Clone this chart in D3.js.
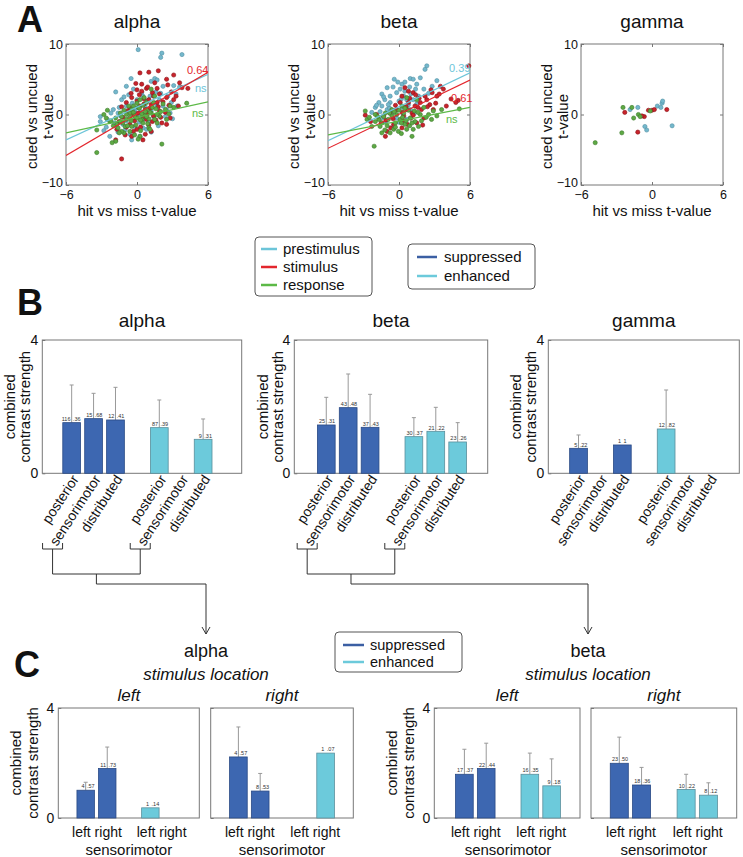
<!DOCTYPE html>
<html><head><meta charset="utf-8">
<script src="https://cdn.jsdelivr.net/npm/d3@7"></script>
<style>
body{margin:0;background:#fff}
svg{display:block}
text{font-family:Arial,"Liberation Sans",sans-serif;fill:#111}
</style>
</head><body>
<svg id="c" width="743" height="857"></svg>
<script>
// ---------------- DATA ----------------
const bands = ['alpha','beta','gamma'];
const phases = ['prestimulus','stimulus','response'];
const modulations = ['suppressed','enhanced'];
const regions = ['posterior','sensorimotor','distributed'];
const sides = ['left','right'];

// Panel A scatter points [hit vs miss t, cued vs uncued t]
const alphaPre = [[0.1,9.2],[2.1,8.7],[2.0,8.1],[3.8,8.5],[-0.5,5.1],[1.5,5.1],[1.7,4.9],[-0.9,4.0],[-1.8,3.2],[2.2,4.0],[1.2,4.7],[3.1,4.1],[3.6,3.9],[-3.1,-0.3],[-3.1,-1.0],[-2.5,-0.7],[-2.0,0.7],[-1.6,0.2],[-1.3,2.1],[0.5,2.6],[1.9,2.1],[2.5,0.7],[2.9,1.7],[2.2,1.2],[0.25,-3.1],[-0.2,-1.7],[1.0,-1.0],[-0.6,-0.5],[-2.3,-3.1],[-1.6,-2.5],[1.2,0.5],[1.7,1.2],[-0.9,1.2],[-0.3,3.6],[0.0,2.1],[3.3,2.9],[2.8,0.2],[0.8,-2.1],[-0.45,-3.6],[0.5,-1.9],[-1.2,-1.4],[0.3,0.4],[0.9,1.9],[-0.4,1.6],[1.4,-0.3],[-2.6,-1.8],[0.6,-0.6],[-1.0,-2.2],[2.6,2.6],[1.6,3.2],[-0.7,2.8],[0.2,-1.1],[3.0,-0.6],[-1.9,-1.2],[-1.4,-0.2],[0.9,0.2],[-0.1,0.9],[1.8,-1.6],[-2.2,0.2],[0.4,3.1],[2.0,3.0],[-0.6,-2.8],[1.2,-2.5],[-1.5,1.0],[0.7,1.1],[-0.9,-0.9],[2.4,-0.3],[1.1,2.6],[-2.8,-2.3],[0.1,-0.3],[-0.2,0.4],[1.5,1.6],[-1.1,2.5],[3.4,1.2]];
const alphaStim = [[1.8,6.2],[1.0,6.0],[0.25,5.9],[3.1,5.6],[2.5,5.0],[2.6,4.2],[3.6,4.5],[3.8,3.8],[4.3,3.7],[0.8,3.7],[0.4,3.3],[0.0,3.5],[1.3,3.1],[1.9,2.9],[2.5,2.4],[3.1,2.1],[1.7,1.7],[-0.45,2.4],[-0.9,1.7],[-1.3,1.1],[0.1,0.2],[0.7,0.7],[1.4,-0.2],[-0.6,-1.4],[0.0,-2.1],[-0.45,-3.1],[-1.0,-2.9],[-1.8,-3.6],[-1.7,-2.1],[0.5,-3.6],[-1.3,-6.3],[1.2,-2.4],[2.1,-1.2],[2.8,-0.5],[3.5,1.2],[1.0,2.1],[0.25,1.2],[-0.3,0.0],[1.9,0.5],[2.5,-1.4],[0.8,-0.7],[1.5,4.5],[0.6,1.5],[-0.2,-0.9],[1.1,0.9],[0.3,-1.8],[-0.8,0.5],[1.6,-0.8],[2.2,1.8],[0.9,3.9],[-0.1,4.4],[0.7,-2.8],[1.4,2.6],[-1.2,-0.4],[2.9,3.2],[0.2,2.8],[0.5,-0.3],[-0.6,0.9],[1.8,1.1],[0.0,1.9],[-0.3,-2.4],[1.0,-1.5],[2.0,-0.4],[-1.5,-1.0],[0.9,0.1],[1.3,-1.0],[-0.9,-1.8],[2.4,0.3],[0.4,4.3],[1.7,3.7],[-0.5,3.0],[3.3,2.6],[2.7,1.3],[-0.1,-0.4],[0.6,2.2],[1.2,1.4]];
const alphaResp = [[-3.4,-2.2],[-3.4,-5.4],[-2.5,0.6],[-2.3,-1.0],[-1.8,-0.5],[-1.7,-1.4],[-1.4,0.2],[-1.0,-1.7],[-0.6,0.2],[-0.3,1.2],[0.0,-0.5],[0.25,2.1],[0.4,-0.7],[0.8,0.7],[1.2,3.6],[1.4,1.7],[1.7,-1.2],[1.9,-0.2],[2.4,0.7],[2.8,1.2],[3.1,1.0],[4.2,1.6],[2.1,-4.2],[-1.1,-2.6],[-0.45,-1.7],[0.5,0.0],[1.0,-1.9],[-0.2,-2.9],[-1.8,-3.8],[-2.1,-4.0],[-1.3,-2.4],[0.25,-3.1],[1.2,0.2],[-0.9,-0.7],[-0.45,0.7],[0.1,1.0],[0.8,1.7],[1.5,2.6],[2.5,-0.7],[0.5,-1.2],[-1.4,-1.0],[-2.8,0.0],[-0.6,-2.4],[1.7,0.0],[0.7,0.4],[-0.6,-0.4],[0.2,0.9],[-1.1,0.6],[1.0,-0.6],[-0.1,-1.5],[0.6,2.4],[-1.6,-1.9],[1.3,1.0],[-0.8,-1.6],[0.3,-2.3],[2.0,0.4],[-2.2,-0.9],[0.9,-1.3],[-0.3,0.3],[1.6,0.8],[-0.5,-0.9],[0.4,0.1],[1.1,0.3],[-1.3,-0.3],[0.0,1.6],[-0.9,0.0],[0.8,-0.3],[1.5,-0.7],[-2.0,-1.6],[-0.2,-0.2],[0.5,1.3],[-1.5,-2.6],[1.1,-2.1],[2.2,1.5],[-0.7,1.2],[0.3,-0.8],[-1.2,-1.2],[2.7,0.1],[-2.6,-0.5],[0.1,-3.5]];

const betaPre = [[2.35,6.9],[2.2,6.4],[-0.4,5.0],[0.95,5.1],[1.2,5.0],[0.25,4.3],[1.5,4.3],[-1.0,3.8],[2.1,3.6],[-1.45,2.9],[-0.75,2.6],[-0.2,3.1],[0.5,3.3],[-1.2,2.1],[-1.7,1.7],[-1.45,1.2],[0.0,1.9],[0.65,2.1],[1.2,2.1],[1.65,2.6],[-2.0,1.0],[-1.0,0.7],[-0.6,0.2],[0.25,1.0],[0.95,0.7],[-0.2,-0.5],[0.65,-0.7],[-1.45,-0.5],[-0.45,-1.7],[3.2,4.8],[2.8,4.0],[1.8,5.2],[0.1,3.6],[-0.75,1.7],[0.4,2.6],[-0.8,0.9],[0.3,0.2],[-1.6,0.4],[0.8,1.4],[-0.5,3.9],[1.0,2.9],[-1.1,-1.1],[0.5,4.6],[-2.3,0.3],[1.4,3.6],[-0.3,0.6],[0.6,0.9],[-1.3,2.5],[0.2,2.2],[1.5,1.5],[-0.9,1.4],[0.9,3.9],[-0.1,4.6],[2.5,3.0],[-1.9,1.3],[0.0,-1.1],[1.3,0.2]];
const betaStim = [[5.9,6.9],[5.0,2.0],[4.8,1.7],[3.5,4.0],[3.75,3.6],[2.8,3.1],[3.2,2.6],[2.35,2.1],[1.8,1.7],[2.6,1.4],[1.35,1.2],[1.9,0.7],[0.8,3.3],[0.5,3.8],[0.25,2.6],[0.8,1.7],[1.1,0.2],[0.4,-0.2],[-0.2,0.7],[-0.75,0.2],[-1.3,-0.2],[-1.9,0.0],[-2.85,-0.1],[-2.4,-1.0],[-1.15,-3.1],[-1.0,-2.4],[-0.45,-1.4],[0.25,-1.9],[1.5,-1.2],[2.1,-0.5],[2.9,0.7],[4.0,1.2],[1.2,3.1],[0.1,1.7],[0.65,0.7],[0.9,2.3],[1.6,1.0],[2.2,2.6],[0.3,-0.9],[-0.5,-0.6],[1.0,-0.5],[3.1,1.6],[2.7,3.5],[-1.5,-1.2],[0.6,1.1],[0.3,0.3],[-0.3,1.3],[1.2,-0.1],[2.4,1.1],[1.7,2.3],[3.4,2.9],[0.7,-1.4],[-1.1,-0.8],[2.0,-1.5],[-0.7,-1.9],[4.4,2.2],[1.4,2.8]];
const betaResp = [[-2.85,0.5],[-2.7,-0.7],[-2.3,-1.7],[-2.1,-4.5],[-1.7,-0.7],[-1.45,-1.2],[-1.15,0.2],[-0.9,-0.7],[-0.6,0.7],[-0.45,-2.1],[-0.2,0.0],[0.1,-0.7],[0.4,0.2],[0.5,-1.4],[0.95,-0.5],[1.1,-3.1],[1.35,-1.0],[1.8,0.0],[2.1,1.0],[2.5,0.0],[2.9,0.5],[3.6,0.7],[5.1,0.8],[0.25,1.2],[0.65,2.4],[1.5,2.1],[-0.75,-2.6],[-0.05,-2.4],[-1.45,-2.6],[0.65,-2.1],[1.65,-1.7],[2.75,-0.7],[-2.0,0.0],[-0.3,-1.2],[-0.6,-0.2],[0.2,-1.2],[-1.0,-1.6],[0.8,0.6],[1.3,0.5],[-1.8,-0.3],[0.0,0.6],[0.6,-0.9],[-0.3,-1.8],[1.9,-0.9],[-2.5,-0.4],[0.9,-1.6],[-1.3,-0.3],[-0.8,0.2],[0.3,-0.4],[1.1,-1.2],[-1.6,-1.7],[0.5,0.9],[1.6,0.3],[-0.4,0.4],[2.3,-0.4],[-1.2,-2.2],[0.2,-2.7],[1.2,-2.1],[3.2,-0.2],[-2.0,-1.0]];

const gammaPre = [[-1.85,0.7],[-1.2,1.0],[0.45,1.2],[0.85,1.6],[0.9,1.9],[0.75,1.0],[-0.6,-1.7],[-0.45,-2.2],[1.7,-1.6]];
const gammaStim = [[-2.3,0.3],[-1.2,-2.5],[-0.65,-0.3],[-0.3,0.6],[0.0,0.6],[0.2,0.7],[1.25,0.7],[-0.85,-0.2]];
const gammaResp = [[-2.45,1.0],[-1.7,1.0],[-1.55,-0.5],[-1.15,0.0],[-1.0,-0.3],[-2.55,-2.6],[-4.8,-4.0],[-0.15,0.5]];

// regression fits [intercept, slope] and correlation labels
const alphaFits = [[1.05,0.775],[0.1,0.983],[-0.4,0.367]];
const betaFits  = [[1.1,0.8],[0.05,0.808],[-0.95,0.325]];
const alphaFitText = ['ns','0.64','ns'];
const betaFitText  = ['0.39','0.61','ns'];

// Panel B: bars (posterior, sensorimotor, distributed) x (suppressed, enhanced)
const alphaBMean = [1.52,1.64,1.60,1.37,null,1.02];
const alphaBErr  = [2.65,2.40,2.58,2.20,null,1.63];
const alphaBN    = ['116','15','12','87','','9'];
const alphaBR    = ['.36','.68','.41','.39','','.31'];
const betaBMean  = [1.45,1.97,1.38,1.10,1.26,0.94];
const betaBErr   = [2.28,2.98,2.37,1.67,1.98,1.52];
const betaBN     = ['25','43','37','30','21','23'];
const betaBR     = ['.31','.48','.43','.37','.22','.26'];
const gammaBMean = [0.75,null,0.85,1.33,null,null];
const gammaBErr  = [1.15,null,null,2.50,null,null];
const gammaBN    = ['5','','1','12','',''];
const gammaBR    = ['.22','','1','.82','',''];

// Panel C: sensorimotor left/right x (suppressed, enhanced), per stimulus location
const alphaCLeftMean  = [1.01,1.80,0.37,null];
const alphaCLeftErr   = [1.30,2.58,null,null];
const alphaCLeftN     = ['4','11','1',''];
const alphaCLeftR     = ['.57','.73','.14',''];
const alphaCRightMean = [2.22,0.98,null,2.36];
const alphaCRightErr  = [3.31,1.62,null,null];
const alphaCRightN    = ['4','8','','1'];
const alphaCRightR    = ['.57','.53','','.07'];
const betaCLeftMean   = [1.59,1.80,1.59,1.17];
const betaCLeftErr    = [2.50,2.72,2.36,2.15];
const betaCLeftN      = ['17','22','16','9'];
const betaCLeftR      = ['.37','.44','.35','.18'];
const betaCRightMean  = [1.99,1.20,1.04,0.83];
const betaCRightErr   = [2.94,1.84,1.59,1.28];
const betaCRightN     = ['23','18','10','8'];
const betaCRightR     = ['.50','.36','.22','.12'];

const xTicksA = [-6,0,6];
const yTicksA = [-10,0,10];
const yTicksBar = [0,4];

// ---------------- STYLE / LAYOUT ----------------
const FONT='Arial,"Liberation Sans",sans-serif';
const phaseColor = {prestimulus:'#6cc5d9', stimulus:'#e3262d', response:'#5cb947'};
const dotFill = {prestimulus:'#74b8cc', stimulus:'#c8232b', response:'#5ea944'};
const dotStroke = {prestimulus:'#4f8ea3', stimulus:'#8c1218', response:'#3d7a2c'};
const modFill = {suppressed:'#3d67b1', enhanced:'#6ccadb'};
const modStroke = {suppressed:'#2a4a85', enhanced:'#5a8f9c'};
const modLegend = {suppressed:'#3b5fa3', enhanced:'#6ccadb'};

const svg = d3.select('#c');

[['A',17,32],['B',17,315],['C',14,677]].forEach(([t,x,y])=>{
  svg.append('text').attr('x',x).attr('y',y).attr('font-size',36).attr('font-weight','bold').text(t);
});

// ---------------- PANEL A ----------------
const aTop=44, aBot=185, aW=142;
const aPanels = [
  {band:'alpha', left:66, pts:[alphaPre,alphaStim,alphaResp], fits:alphaFits, fitText:alphaFitText,
   labelPos:[[195,88],[187,70],[192,113]]},
  {band:'beta', left:328, pts:[betaPre,betaStim,betaResp], fits:betaFits, fitText:betaFitText,
   labelPos:[[449,68],[451,98],[446,119]]},
  {band:'gamma', left:581, pts:[gammaPre,gammaStim,gammaResp], fits:null}
];
aPanels.forEach((p,pi)=>{
  const x=d3.scaleLinear().domain([-6,6]).range([p.left,p.left+aW]);
  const y=d3.scaleLinear().domain([-10,10]).range([aBot,aTop]);
  const g=svg.append('g');
  const cid='clipA'+pi;
  g.append('clipPath').attr('id',cid).append('rect').attr('x',p.left).attr('y',aTop).attr('width',aW).attr('height',aBot-aTop);
  const ax=(gen,tr,labels)=>{
    const a=g.append('g').attr('transform',tr).call(gen);
    a.select('.domain').remove();
    a.selectAll('line').attr('stroke','#777');
    a.selectAll('text').attr('font-size',12.5).attr('fill','#111').style('font-family',FONT);
    if(!labels) a.selectAll('text').remove();
    return a;
  };
  ax(d3.axisBottom(x).tickValues(xTicksA).tickSize(-3).tickPadding(5.5).tickFormat(d3.format('d')),`translate(0,${aBot})`,true);
  const yl=ax(d3.axisLeft(y).tickValues(yTicksA).tickSize(-3).tickPadding(3).tickFormat(d3.format('d')),`translate(${p.left},0)`,true);
  yl.selectAll('text').filter(d=>d===-10).attr('dy','0.1em');
  ax(d3.axisRight(y).tickValues(yTicksA).tickSize(-3),`translate(${p.left+aW},0)`,false);
  ax(d3.axisTop(x).tickValues(xTicksA).tickSize(-3),`translate(0,${aTop})`,false);
  g.append('rect').attr('x',p.left).attr('y',aTop).attr('width',aW).attr('height',aBot-aTop)
    .attr('fill','none').attr('stroke','#777').attr('stroke-width',1);
  p.pts.forEach((arr,si)=>{
    const ph=phases[si];
    g.append('g').selectAll('circle').data(arr).join('circle')
      .attr('cx',d=>x(d[0])).attr('cy',d=>y(d[1])).attr('r',2.1)
      .attr('fill',dotFill[ph]).attr('stroke',dotStroke[ph]).attr('stroke-width',0.6);
  });
  if(p.fits){
    p.fits.forEach((f,si)=>{
      const ph=phases[si];
      const line=d3.line().x(d=>x(d)).y(d=>y(f[0]+f[1]*d));
      g.append('path').attr('clip-path',`url(#${cid})`).attr('d',line([-6,6]))
        .attr('fill','none').attr('stroke',phaseColor[ph]).attr('stroke-width',1.2);
    });
    p.fits.forEach((f,si)=>{
      const ph=phases[si];
      g.append('text').attr('x',p.labelPos[si][0]).attr('y',p.labelPos[si][1]).attr('dy','0.35em')
        .attr('font-size',11).style('fill',phaseColor[ph]).text(p.fitText[si]);
    });
  }
  g.append('text').attr('x',p.left+aW/2).attr('y',28).attr('text-anchor','middle').attr('font-size',19).text(p.band);
  g.append('text').attr('x',p.left+aW/2).attr('y',215.5).attr('text-anchor','middle').attr('font-size',15).text('hit vs miss t-value');
  const cy=(aTop+aBot)/2+2;
  g.append('text').attr('transform',`translate(${p.left-29},${cy}) rotate(-90)`).attr('text-anchor','middle').attr('font-size',15).text('cued vs uncued');
  g.append('text').attr('transform',`translate(${p.left-13.5},${cy}) rotate(-90)`).attr('text-anchor','middle').attr('font-size',15).text('t-value');
});

// ---------------- LEGENDS ----------------
function legend(x0,y0,w,h,items,colors,lx,tx,ys,fs){
  const g=svg.append('g');
  g.append('rect').attr('x',x0).attr('y',y0).attr('width',w).attr('height',h).attr('rx',4)
    .attr('fill','#fff').attr('stroke','#555').attr('stroke-width',1);
  items.forEach((it,i)=>{
    g.append('line').attr('x1',lx[0]).attr('x2',lx[1]).attr('y1',ys[i]).attr('y2',ys[i])
      .attr('stroke',colors[it]).attr('stroke-width',2.5);
    g.append('text').attr('x',tx).attr('y',ys[i]).attr('dy','0.35em').attr('font-size',fs).text(it);
  });
}
legend(255,237,117,59,phases,phaseColor,[261,277],283,[249,267,285],15);
legend(408,244,127,45,modulations,modLegend,[417,437],444,[257,276],15);
legend(335,632,127,40,modulations,modLegend,[343,364],370,[645,662],14.5);

// ---------------- BAR PANEL HELPER ----------------
function barPanel(cfg){
  const g=svg.append('g');
  const x=d3.scaleLinear().domain(cfg.domain).range([cfg.left,cfg.right]);
  const y=d3.scaleLinear().domain([0,4]).range([cfg.bottom,cfg.top]);
  const step=x(1)-x(0), bw=step*0.81;
  const ya=g.append('g').attr('transform',`translate(${cfg.left},0)`)
    .call(d3.axisLeft(y).tickValues(yTicksBar).tickSize(-3).tickPadding(4).tickFormat(d3.format('d')));
  ya.select('.domain').remove();
  ya.selectAll('line').attr('stroke','#777');
  ya.selectAll('text').attr('font-size',14).attr('fill','#111').style('font-family',FONT);
  if(cfg.noYLabels) ya.selectAll('text').remove();
  g.append('rect').attr('x',cfg.left).attr('y',cfg.top).attr('width',cfg.right-cfg.left).attr('height',cfg.bottom-cfg.top)
    .attr('fill','none').attr('stroke','#777');
  const items=cfg.mean.map((m,i)=>({m,e:cfg.err[i],n:cfg.n[i],r:cfg.r[i],slot:cfg.slots[i],grp:cfg.groups[i]})).filter(d=>d.m!=null);
  items.filter(d=>d.e!=null).forEach(d=>{
    const cx=x(d.slot);
    g.append('line').attr('x1',cx).attr('x2',cx).attr('y1',y(d.m)).attr('y2',y(d.e)).attr('stroke','#999').attr('stroke-width',1);
    g.append('line').attr('x1',cx-2).attr('x2',cx+2).attr('y1',y(d.e)).attr('y2',y(d.e)).attr('stroke','#999').attr('stroke-width',1);
  });
  g.append('g').selectAll('rect').data(items).join('rect')
    .attr('x',d=>x(d.slot)-bw/2).attr('width',bw)
    .attr('y',d=>y(d.m)).attr('height',d=>y(0)-y(d.m))
    .attr('fill',d=>modFill[d.grp]).attr('stroke',d=>modStroke[d.grp]).attr('stroke-width',0.8);
  items.forEach(d=>{
    const cx=x(d.slot), ty=y(d.m)-1.8;
    g.append('text').attr('x',cx-1.2).attr('y',ty).attr('text-anchor','end').attr('font-size',5.5).style('fill','#333').text(d.n);
    g.append('text').attr('x',cx+1.2).attr('y',ty).attr('text-anchor','start').attr('font-size',5.5).style('fill','#333').text(d.r);
  });
  if(cfg.yt){
    const cy=(cfg.top+cfg.bottom)/2;
    g.append('text').attr('transform',`translate(${cfg.left+cfg.yt[0]},${cy}) rotate(-90)`).attr('text-anchor','middle').attr('font-size',15).text('combined');
    g.append('text').attr('transform',`translate(${cfg.left+cfg.yt[1]},${cy}) rotate(-90)`).attr('text-anchor','middle').attr('font-size',15).text('contrast strength');
  }
  return {g,x,y};
}

// ---------------- PANEL B ----------------
const bTop=340, bBot=473.3;
const bSlots=[0,1,2,4,5,6];
const bGroups=['suppressed','suppressed','suppressed','enhanced','enhanced','enhanced'];
const bRegionOf=[0,1,2,0,1,2];
const bPanels=[
  {band:'alpha',left:42.3,right:241.7,domain:[-1.34,7.76],mean:alphaBMean,err:alphaBErr,n:alphaBN,r:alphaBR,yt:[-27,-12]},
  {band:'beta',left:294.3,right:487.7,domain:[-1.46,7.37],mean:betaBMean,err:betaBErr,n:betaBN,r:betaBR,yt:[-26,-11]},
  {band:'gamma',left:548.3,right:739.3,domain:[-1.38,7.34],mean:gammaBMean,err:gammaBErr,n:gammaBN,r:gammaBR,yt:[-27,-12]}
];
const bScales={};
bPanels.forEach(p=>{
  const {g,x}=barPanel(Object.assign({top:bTop,bottom:bBot,slots:bSlots,groups:bGroups},p));
  bScales[p.band]=x;
  const xa=g.append('g').attr('transform',`translate(0,${bBot})`)
    .call(d3.axisBottom(x).tickValues(bSlots).tickSize(0).tickFormat((d,i)=>regions[bRegionOf[i]]));
  xa.select('.domain').remove();
  xa.selectAll('text').attr('font-size',14).attr('fill','#111').style('font-family',FONT)
    .attr('text-anchor','end').attr('transform','translate(3,3) rotate(-57)').attr('x',0).attr('y',0).attr('dy','0.35em');
  g.append('text').attr('x',(p.left+p.right)/2).attr('y',327).attr('text-anchor','middle').attr('font-size',19).text(p.band);
});

// ---------------- CONNECTORS ----------------
const conn=svg.append('g').attr('fill','none').attr('stroke','#333').attr('stroke-width',1);
[['alpha',206],['beta',588]].forEach(([b,tx])=>{
  const x=bScales[b];
  const c1=x(1)-41, c2=x(5)-41;
  [c1,c2].forEach(c=>{
    conn.append('path').attr('d',`M${c-10},543V549H${c+10}V543M${c},549V574`);
  });
  const mid=(c1+c2)/2;
  conn.append('path').attr('d',`M${c1},574H${c2}M${mid},574V584H${tx}V634`);
  conn.append('path').attr('d',`M${tx-4},627L${tx},634L${tx+4},627`);
});

// ---------------- PANEL C ----------------
const cTop=708, cBot=818;
const cSlots=[0,1,3,4];
const cGroups=['suppressed','suppressed','enhanced','enhanced'];
const cPanels=[
  {loc:'left',left:58.3,right:199.3,mean:alphaCLeftMean,err:alphaCLeftErr,n:alphaCLeftN,r:alphaCLeftR,yt:[-37,-20]},
  {loc:'right',left:210.7,right:353.3,mean:alphaCRightMean,err:alphaCRightErr,n:alphaCRightN,r:alphaCRightR,noYLabels:true},
  {loc:'left',left:434.3,right:580,mean:betaCLeftMean,err:betaCLeftErr,n:betaCLeftN,r:betaCLeftR,yt:[-37,-20]},
  {loc:'right',left:591,right:736.7,mean:betaCRightMean,err:betaCRightErr,n:betaCRightN,r:betaCRightR,noYLabels:true}
];
cPanels.forEach((p,i)=>{
  const dom = i===2 ? [-1.38,5.3] : [-1.27,5.27];
  const {g,x}=barPanel(Object.assign({top:cTop,bottom:cBot,slots:cSlots,groups:cGroups,domain:dom},p));
  const xa=g.append('g').attr('transform',`translate(0,${cBot})`)
    .call(d3.axisBottom(x).tickValues([0.5,3.5]).tickSize(0).tickPadding(9).tickFormat(()=>sides.join(' ')));
  xa.select('.domain').remove();
  xa.selectAll('text').attr('font-size',14).attr('fill','#111').style('font-family',FONT);
  g.append('text').attr('x',x(2)).attr('y',855).attr('text-anchor','middle').attr('font-size',15).text('sensorimotor');
  g.append('text').attr('x',(p.left+p.right)/2).attr('y',701).attr('text-anchor','middle').attr('font-size',17).attr('font-style','italic').text(p.loc);
});
[['alpha',206],['beta',588]].forEach(([b,cx])=>{
  svg.append('text').attr('x',cx).attr('y',657).attr('text-anchor','middle').attr('font-size',18).text(b);
  svg.append('text').attr('x',cx).attr('y',680).attr('text-anchor','middle').attr('font-size',17).attr('font-style','italic').text('stimulus location');
});
</script>
</body></html>
